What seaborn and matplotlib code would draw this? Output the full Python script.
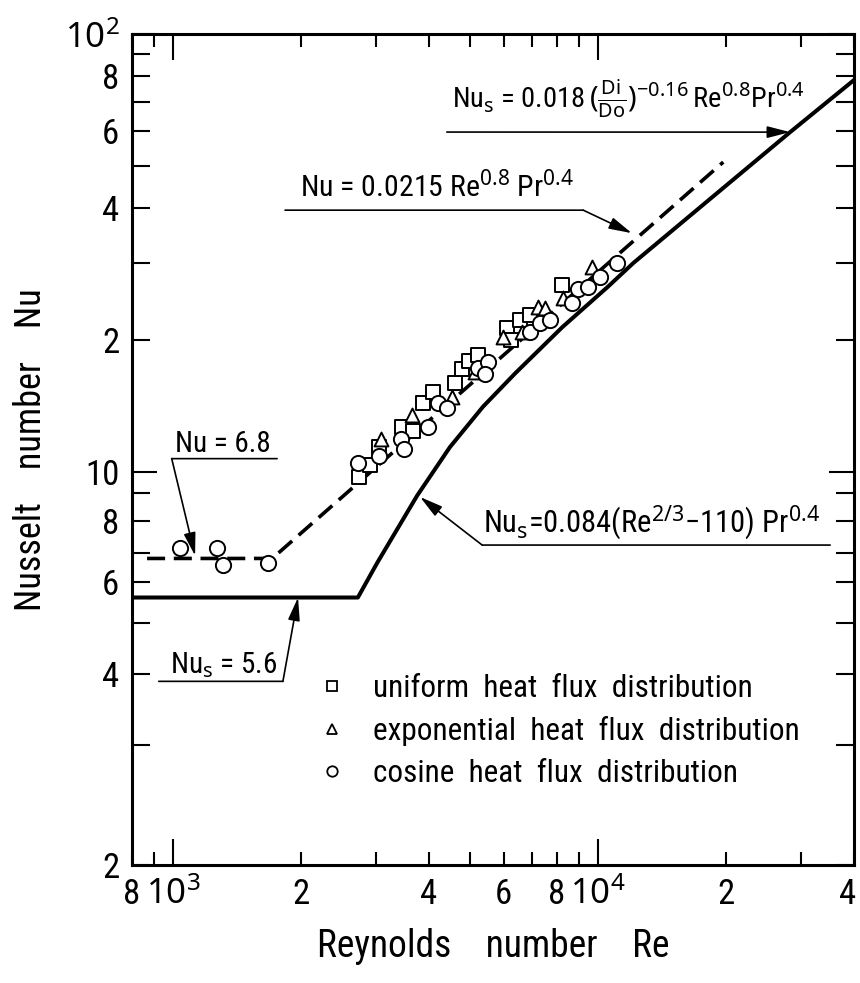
import numpy as np
import matplotlib
matplotlib.use("Agg")
import matplotlib.pyplot as plt
import matplotlib.transforms as mtransforms
from matplotlib.lines import Line2D
import seaborn as sns


# ---- values ----
# uniform heat flux distribution (squares)
re_uniform = [2740, 2910, 3050, 3460, 3670, 3870, 4090, 4610, 4780, 4970, 5220,
              6110, 6240, 6550, 6920, 8230]
nu_uniform = [9.75, 10.4, 11.4, 12.7, 12.4, 14.4, 15.2, 16.0, 17.2, 17.9, 18.5,
              21.3, 20.0, 22.2, 22.8, 26.7]

# exponential heat flux distribution (triangles)
re_exponential = [3080, 3650, 4530, 5130, 5970, 6620, 7220, 7500, 8270, 9680]
nu_exponential = [11.9, 13.5, 14.8, 16.9, 20.3, 20.9, 23.8, 23.7, 25.0, 29.4]

# cosine heat flux distribution (circles)
re_cosine = [1040, 1270, 1310, 1670, 2720, 3050, 3440, 3490, 3980, 4200, 4410,
             5220, 5510, 5420, 6920, 7300, 7710, 8680, 8970, 9470, 10100, 11080]
nu_cosine = [7.15, 7.15, 6.57, 6.64, 10.5, 10.9, 11.9, 11.3, 12.7, 14.4, 14.0,
             17.3, 17.8, 16.7, 20.9, 21.9, 22.2, 24.3, 26.2, 26.5, 27.9, 30.0]

# solid line: Nu_s (laminar plateau, transition curve, turbulent line)
re_nus = [800, 2720, 3020, 3750, 4480, 5360, 6380, 8230, 10550, 12100, 28300, 40000]
nu_nus = [5.6, 5.6, 6.64, 8.9, 11.4, 14.1, 16.8, 21.4, 26.5, 30.0, 59.7, 78.5]

# dashed line: Nu = 6.8 and Nu = 0.0215 Re^0.8 Pr^0.4
re_nu = [868, 1710, 19700]
nu_nu = [6.8, 6.8, 51.0]

legend_labels = ['uniform  heat  flux  distribution',
                 'exponential  heat  flux  distribution',
                 'cosine  heat  flux  distribution']

# ticks
x_major = [1e3, 1e4]
x_major_labels = [r'$10^3$', r'$10^4$']
x_minor = [800, 900, 2000, 3000, 4000, 5000, 6000, 7000, 8000, 9000, 20000, 30000, 40000]
x_minor_labels = ['8', '', '2', '', '4', '', '6', '', '8', '', '2', '', '4']
y_major = [10, 100]
y_major_labels = ['10', r'$10^2$']
y_minor = [2, 3, 4, 5, 6, 7, 8, 9, 20, 30, 40, 50, 60, 70, 80, 90]
y_minor_labels = ['2', '', '4', '', '6', '', '8', '', '2', '', '4', '', '6', '', '8', '']

# the printed Nu axis is not evenly spaced below 10: calibration of its ticks
y_cal_nu = [2, 3, 4, 5, 6, 7, 8, 9, 10, 100]
y_cal_len = [0, 120, 191, 242, 283, 312, 344, 372, 393, 831]

lv = np.log10(y_cal_nu)
lp = np.array(y_cal_len, dtype=float)
lv = np.concatenate([[lv[0] - 10], lv, [lv[-1] + 10]])
lp = np.concatenate([[lp[0] - 10 * 681], lp, [lp[-1] + 10 * 438]])


def y_forward(y):
    return np.interp(np.log10(np.clip(y, 1e-12, None)), lv, lp)


def y_inverse(p):
    return 10 ** np.interp(p, lp, lv)


sns.set_theme(style='ticks')
plt.rcParams['font.family'] = ['Roboto Condensed', 'Noto Sans', 'DejaVu Sans']
plt.rcParams['font.stretch'] = 'condensed'
plt.rcParams['mathtext.fontset'] = 'custom'
plt.rcParams['mathtext.rm'] = 'Noto Sans:stretch=condensed'
plt.rcParams['mathtext.it'] = 'Noto Sans:stretch=condensed'
plt.rcParams['mathtext.bf'] = 'Noto Sans:stretch=condensed'
plt.rcParams['axes.linewidth'] = 2.2
plt.rcParams['axes.edgecolor'] = 'black'
plt.rcParams['text.color'] = 'black'
plt.rcParams['axes.labelcolor'] = 'black'
plt.rcParams['xtick.color'] = 'black'
plt.rcParams['ytick.color'] = 'black'

fig = plt.figure(figsize=(8.6, 9.83), dpi=100)
ax = fig.add_axes([132 / 860, 1 - 865 / 983, 722 / 860, 831 / 983])
ax.set_xscale('log')
ax.set_yscale('function', functions=(y_forward, y_inverse))

# lines
sns.lineplot(x=re_nus, y=nu_nus, ax=ax, color='black', lw=2.9,
             estimator=None, sort=False, zorder=2)
sns.lineplot(x=re_nu, y=nu_nu, ax=ax, color='black', lw=2.6,
             estimator=None, sort=False, zorder=2)
ax.lines[-1].set_dashes([5, 2.4])

# measured points
sns.scatterplot(x=re_uniform, y=nu_uniform, ax=ax, marker='s', s=110,
                color='white', edgecolor='black', linewidth=1.4, zorder=3)
sns.scatterplot(x=re_exponential, y=nu_exponential, ax=ax, marker='^', s=100,
                color='white', edgecolor='black', linewidth=1.4, zorder=3)
sns.scatterplot(x=re_cosine, y=nu_cosine, ax=ax, marker='o', s=120,
                color='white', edgecolor='black', linewidth=1.4, zorder=4)

ax.set_xlim(800, 40000)
ax.set_ylim(2, 100)

# ticks
ax.set_xticks(x_major, x_major_labels)
ax.set_xticks(x_minor, x_minor_labels, minor=True)
ax.set_yticks(y_major, y_major_labels)
ax.set_yticks(y_minor, y_minor_labels, minor=True)
ax.tick_params(axis='x', which='major', direction='in', length=18.5, width=1.5,
               top=True, pad=28, labelsize=25)
ax.tick_params(axis='x', which='minor', direction='in', length=9.5, width=1.5,
               top=True, pad=28, labelsize=25)
ax.tick_params(axis='y', which='major', direction='in', length=18, width=1.5,
               right=True, pad=9, labelsize=25)
ax.tick_params(axis='y', which='minor', direction='in', length=13, width=1.5,
               right=True, pad=9, labelsize=25)
for lab in ax.get_xticklabels(which='both'):
    lab.set_verticalalignment('baseline')
# keep the last "4" inside the picture
last = ax.xaxis.get_minorticklabels()[-1]
last.set_transform(last.get_transform()
                   + mtransforms.ScaledTranslation(-6 / 100, 0, fig.dpi_scale_trans))

ax.set_xlabel('Reynolds    number    Re', fontsize=27)
ax.xaxis.set_label_coords(0.5, -0.076)
ax.set_ylabel('Nusselt    number    Nu', fontsize=26)
ax.yaxis.set_label_coords(-0.115, 0.5)

# annotations
arrow_kw = dict(arrowstyle='-|>,head_length=0.7,head_width=0.18', color='black',
                lw=1.2, shrinkA=0, shrinkB=0, mutation_scale=20)
line_kw = dict(arrowstyle='-', color='black', lw=1.2, shrinkA=0, shrinkB=0)

ax.text(0.443, 0.911,
        r'Nu$_\mathrm{s}$ = 0.018$\,(\frac{\mathrm{Di}}{\mathrm{Do}})^{-0.16}\,$Re$^{0.8}$Pr$^{0.4}$',
        transform=ax.transAxes, fontsize=20.5, va='baseline')
ax.annotate('', xy=(28300, 59.7), xytext=(0.436, 0.882), xycoords='data',
            textcoords='axes fraction', arrowprops=arrow_kw)

ax.text(0.233, 0.804, r'Nu = 0.0215 Re$^{0.8}$ Pr$^{0.4}$',
        transform=ax.transAxes, fontsize=21.5, va='baseline')
ax.annotate('', xy=(0.625, 0.788), xytext=(0.212, 0.788), xycoords='axes fraction',
            textcoords='axes fraction', arrowprops=line_kw)
ax.annotate('', xy=(12000, 35.1), xytext=(0.625, 0.788), xycoords='data',
            textcoords='axes fraction', arrowprops=arrow_kw)

ax.text(0.060, 0.497, 'Nu = 6.8', transform=ax.transAxes, fontsize=21, va='baseline')
ax.annotate('', xy=(0.201, 0.489), xytext=(0.055, 0.489), xycoords='axes fraction',
            textcoords='axes fraction', arrowprops=line_kw)
ax.annotate('', xy=(1126, 6.9), xytext=(0.055, 0.489), xycoords='data',
            textcoords='axes fraction', arrowprops=arrow_kw)

ax.text(0.053, 0.231, r'Nu$_\mathrm{s}$ = 5.6', transform=ax.transAxes, fontsize=21,
        va='baseline')
ax.annotate('', xy=(0.209, 0.221), xytext=(0.037, 0.221), xycoords='axes fraction',
            textcoords='axes fraction', arrowprops=line_kw)
ax.annotate('', xy=(1967, 5.6), xytext=(0.209, 0.221), xycoords='data',
            textcoords='axes fraction', arrowprops=arrow_kw)

ax.text(0.486, 0.400, r'Nu$_\mathrm{s}$=0.084(Re$^{2/3}$−110) Pr$^{0.4}$',
        transform=ax.transAxes, fontsize=22, va='baseline')
ax.annotate('', xy=(0.967, 0.385), xytext=(0.485, 0.385), xycoords='axes fraction',
            textcoords='axes fraction', arrowprops=line_kw)
ax.annotate('', xy=(3810, 8.85), xytext=(0.485, 0.385), xycoords='data',
            textcoords='axes fraction', arrowprops=arrow_kw)

# legend
handles = [Line2D([], [], ls='none', marker='s', ms=7, mfc='white', mec='black', mew=1.3),
           Line2D([], [], ls='none', marker='^', ms=7, mfc='white', mec='black', mew=1.3),
           Line2D([], [], ls='none', marker='o', ms=7.5, mfc='white', mec='black', mew=1.3)]
ax.legend(handles, legend_labels, loc='upper left', bbox_to_anchor=(0.260, 0.230),
          frameon=False, fontsize=22.5, handlelength=0.8, handletextpad=0.9,
          labelspacing=0.42, borderpad=0, borderaxespad=0)

fig.savefig('out.png', dpi=100)
